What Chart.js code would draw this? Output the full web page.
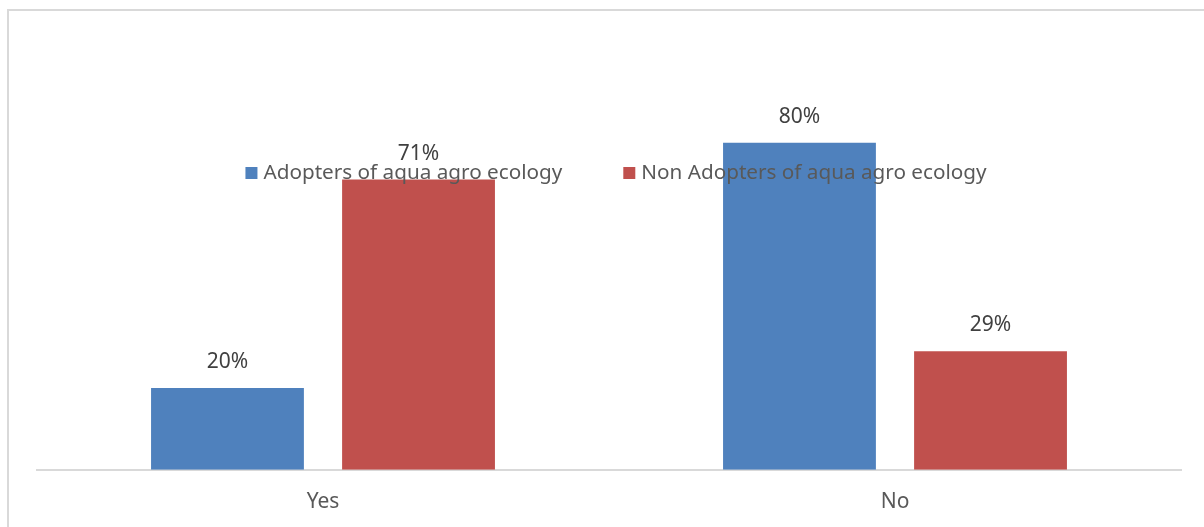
<!DOCTYPE html>
<html>
<head>
<meta charset="utf-8">
<script src="https://cdn.jsdelivr.net/npm/chart.js@4"></script>
<style>
  html, body { margin: 0; padding: 0; background: #fff; }
  #wrap { position: relative; width: 1204px; height: 527px; overflow: hidden; }
  #frame { position: absolute; left: 7px; top: 9px; width: 1300px; height: 600px; border: 2px solid #d9d9d9; }
  canvas { position: absolute; left: 0; top: 0; }
</style>
</head>
<body>
<div id="wrap">
  <div id="frame"></div>
  <canvas id="myChart" width="1204" height="527"></canvas>
</div>
<script>
const categories = ["Yes", "No"];
const adopters = [20, 80];
const nonAdopters = [71, 29];
const seriesNames = ["Adopters of aqua agro ecology", "Non Adopters of aqua agro ecology"];
const colors = ["#4f81bd", "#c0504d"];

const FONT = "'Noto Sans', sans-serif";

// value labels above each bar
const valueLabels = {
  id: "valueLabels",
  afterDatasetsDraw(chart) {
    const ctx = chart.ctx;
    ctx.save();
    ctx.font = "21px " + FONT;
    ctx.fillStyle = "#404040";
    ctx.textAlign = "center";
    ctx.textBaseline = "middle";
    chart.data.datasets.forEach((ds, i) => {
      chart.getDatasetMeta(i).data.forEach((bar, j) => {
        ctx.fillText(ds.data[j] + "%", bar.x, bar.y - 26);
      });
    });
    ctx.restore();
  },
};

// legend drawn over the plot area, like the original
const overlayLegend = {
  id: "overlayLegend",
  afterDraw(chart) {
    const ctx = chart.ctx;
    const area = chart.chartArea;
    ctx.save();
    ctx.font = "20.7px " + FONT;
    ctx.textBaseline = "middle";
    const y = area.top + 112;
    const box = 12, gap = 6, itemGap = 61;
    const widths = seriesNames.map((n) => box + gap + ctx.measureText(n).width);
    const total = widths[0] + itemGap + widths[1];
    let x = (area.left + area.right) / 2 - total / 2 + 7;
    seriesNames.forEach((n, i) => {
      ctx.fillStyle = colors[i];
      ctx.fillRect(x, y - box / 2, box, box);
      ctx.fillStyle = "#595959";
      ctx.fillText(n, x + box + gap, y);
      x += widths[i] + itemGap;
    });
    ctx.restore();
  },
};

const ctx = document.getElementById("myChart").getContext("2d");
new Chart(ctx, {
  type: "bar",
  data: {
    labels: categories,
    datasets: [
      { label: seriesNames[0], data: adopters, backgroundColor: colors[0] },
      { label: seriesNames[1], data: nonAdopters, backgroundColor: colors[1] },
    ],
  },
  options: {
    responsive: false,
    animation: false,
    categoryPercentage: 0.668,
    barPercentage: 0.8,
    layout: { padding: { top: 61, left: 37, right: 23, bottom: -8 } },
    plugins: {
      legend: { display: false },
      tooltip: { enabled: false },
    },
    scales: {
      x: {
        grid: { display: false, drawTicks: false },
        border: { display: true, color: "#d9d9d9", width: 2 },
        ticks: { color: "#595959", font: { family: FONT, size: 21 }, padding: 20 },
      },
      y: {
        display: false,
        min: 0,
        max: 100,
      },
    },
  },
  plugins: [valueLabels, overlayLegend],
});
</script>
</body>
</html>
